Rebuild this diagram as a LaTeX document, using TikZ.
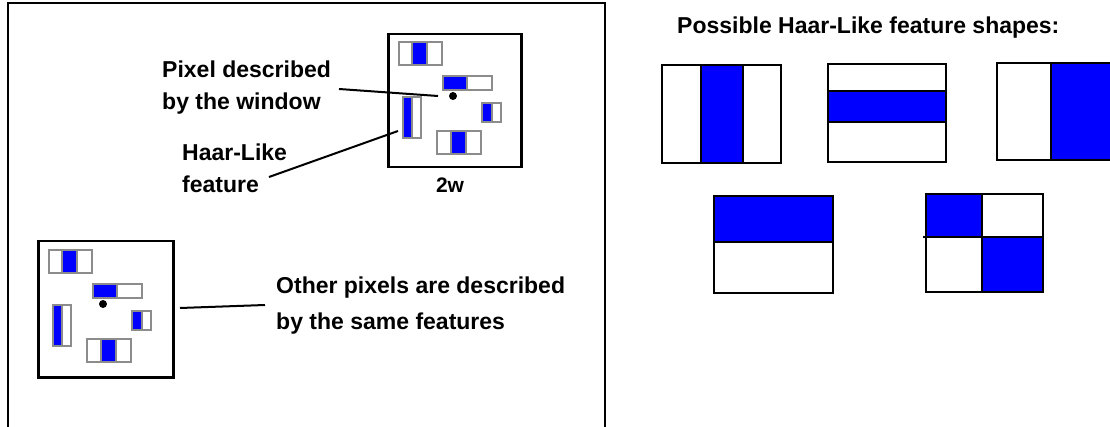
\documentclass[tikz,border=0pt]{standalone}
\usepackage{fontspec}
\setmainfont{Liberation Sans}
\definecolor{fgray}{RGB}{140,140,140}
\definecolor{hblue}{RGB}{0,0,255}
\begin{document}
\begin{tikzpicture}[x=1pt,y=-1pt,
  lbl/.style={font=\fontsize{23}{32}\selectfont\bfseries, inner sep=0pt, align=left, anchor=base west},
  frame/.style={draw=black, line width=2pt},
  win/.style={draw=black, line width=2.5pt, inner sep=0pt, anchor=north west},
  cell/.style={draw=fgray, line width=1.3pt},
  hcell/.style={draw=black, line width=2.2pt},
  conn/.style={draw=black, line width=2pt},
  winfeat/.pic={
    % three-part horizontal feature
    \path[cell, fill=white] (12,9) rectangle (25,32);
    \path[cell, fill=hblue] (25,9) rectangle (40,32);
    \path[cell, fill=white] (40,9) rectangle (55,32);
    % two-part horizontal feature
    \path[cell, fill=hblue] (56,43) rectangle (80,57);
    \path[cell, fill=white] (80,43) rectangle (105,57);
    % pixel
    \fill[black] (66,63) circle (4pt);
    \coordinate (-dotL) at (51,63);
    % vertical two-part feature
    \path[cell, fill=hblue] (16,64) rectangle (25,105);
    \path[cell, fill=white] (25,64) rectangle (34,105);
    \coordinate (-vf) at (11,98);
    % small two-part feature
    \path[cell, fill=hblue] (95,70) rectangle (105,89);
    \path[cell, fill=white] (105,70) rectangle (114,89);
    % bottom three-part feature
    \path[cell, fill=white] (50,98) rectangle (64,121);
    \path[cell, fill=hblue] (64,98) rectangle (79,121);
    \path[cell, fill=white] (79,98) rectangle (94,121);
  }
]
\useasboundingbox (0,0) rectangle (1110,427);
\clip (0,0) rectangle (1110,427);
\fill[white] (0,0) rectangle (1110,427);

% outer frame
\draw[frame] (8,3) rectangle (605,427.5);

% window 1
\node[win, minimum width=133pt, minimum height=133pt] (win1) at (387,33) {};
\pic (w1) at (387,33) {winfeat};
\node[lbl, font=\fontsize{21}{25}\selectfont\bfseries, anchor=base] (tw) at (450,193) {2w};

% window 2
\node[win, minimum width=135pt, minimum height=136pt] (win2) at (37,240) {};
\pic (w2) at (37,241) {winfeat};

% labels (base anchor = baseline of last line)
\node[lbl] (pix) at (162,110) {Pixel described\\by the window};
\node[lbl] (haar) at (182,193) {Haar-Like\\feature};
\node[lbl, font=\fontsize{23}{36}\selectfont\bfseries] (oth) at (276,330) {Other pixels are described\\by the same features};
\node[lbl] (title) at (677,34) {Possible Haar-Like feature shapes:};

% connectors
\coordinate (pixA) at (339,89);
\coordinate (haarA) at (269,177);
\coordinate (othA) at (180,308);
\coordinate (othB) at (265,305);
\draw[conn] (pixA) -- (w1-dotL);
\draw[conn] (haarA) -- (w1-vf);
\draw[conn] (othA) -- (othB);

% Haar-like shapes
% shape 1
\path[hcell, fill=white] (662,65) rectangle (701,163);
\path[hcell, fill=hblue] (701,65) rectangle (743,163);
\path[hcell, fill=white] (743,65) rectangle (781,163);
% shape 2
\path[hcell, fill=white] (828,64) rectangle (946,91);
\path[hcell, fill=hblue] (828,91) rectangle (946,122);
\path[hcell, fill=white] (828,122) rectangle (946,162);
% shape 3
\path[hcell, fill=white] (997,63) rectangle (1051,160);
\path[hcell, fill=hblue] (1051,63) rectangle (1125,160);
% shape 4
\path[hcell, fill=hblue] (714,196) rectangle (833,242);
\path[hcell, fill=white] (714,242) rectangle (833,293);
% shape 5
\path[hcell, fill=hblue] (926,194) rectangle (982,237);
\path[hcell, fill=white] (982,194) rectangle (1043,237);
\path[hcell, fill=white] (926,237) rectangle (982,292);
\path[hcell, fill=hblue] (982,237) rectangle (1043,292);
\draw[hcell] (923,237) -- (1043,237);
\end{tikzpicture}
\end{document}
